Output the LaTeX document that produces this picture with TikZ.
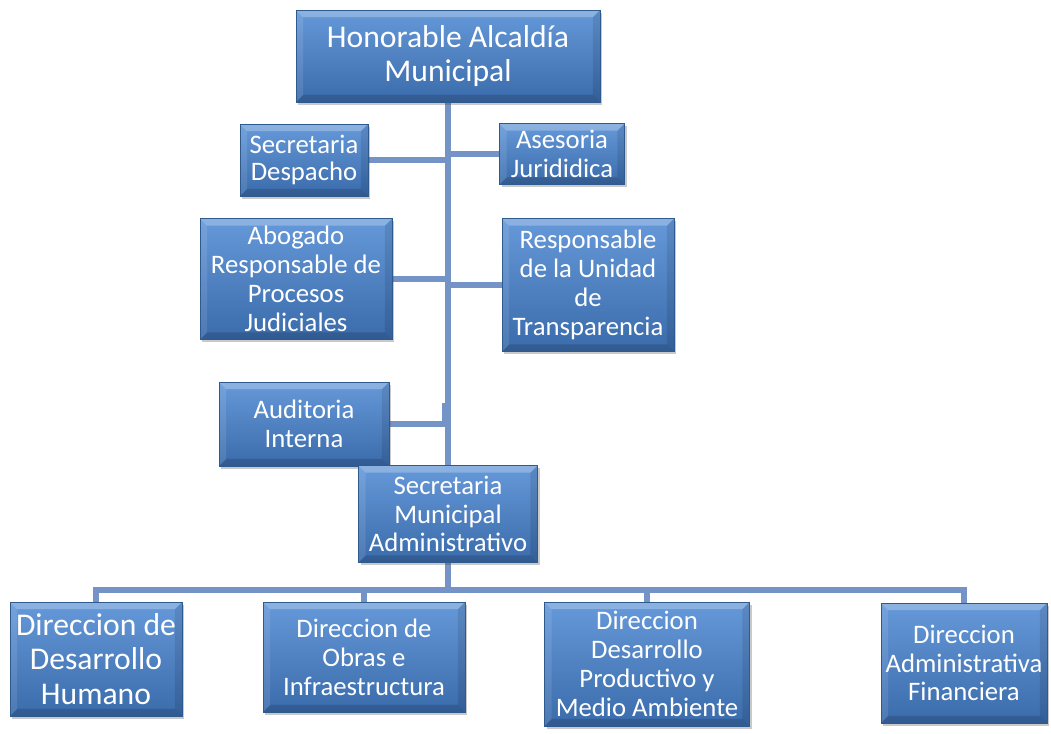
\documentclass[tikz,border=0pt]{standalone}
\usepackage{fontspec}
\setmainfont{Carlito}
\usetikzlibrary{shadows, backgrounds}

\definecolor{boxtop}{HTML}{6699D9}
\definecolor{boxbot}{HTML}{3A6BAB}
\definecolor{boxedge}{HTML}{2E5A8E}
\definecolor{linkblue}{HTML}{7494C8}

\tikzset{
  orgbox/.style={draw=boxedge, line width=0.6pt, top color=boxtop, bottom color=boxbot,
    drop shadow={shadow xshift=1.5pt, shadow yshift=-2pt, opacity=0.3, fill=black!70},
    text=white, align=center, inner sep=1pt,
    font=\fontsize{19}{20.5}\selectfont,
    path picture={
      \fill[white, opacity=0.25] (path picture bounding box.north west) -- (path picture bounding box.north east)
        -- ([xshift=-5pt, yshift=-5pt]path picture bounding box.north east) -- ([xshift=5pt, yshift=-5pt]path picture bounding box.north west) -- cycle;
      \fill[black, opacity=0.15] (path picture bounding box.south west) -- (path picture bounding box.south east)
        -- ([xshift=-5pt, yshift=5pt]path picture bounding box.south east) -- ([xshift=5pt, yshift=5pt]path picture bounding box.south west) -- cycle;
      \fill[black, opacity=0.1] (path picture bounding box.north east) -- (path picture bounding box.south east)
        -- ([xshift=-5pt, yshift=5pt]path picture bounding box.south east) -- ([xshift=-5pt, yshift=-5pt]path picture bounding box.north east) -- cycle;
      \fill[white, opacity=0.1] (path picture bounding box.north west) -- (path picture bounding box.south west)
        -- ([xshift=5pt, yshift=5pt]path picture bounding box.south west) -- ([xshift=5pt, yshift=-5pt]path picture bounding box.north west) -- cycle;
    }},
  bigtext/.style={font=\fontsize{22.5}{24.8}\selectfont},
  box size/.style 2 args={minimum width=#1*0.025cm, minimum height=#2*0.025cm},
  link/.style={draw=linkblue, line width=4.2pt}
}

\begin{document}
\begin{tikzpicture}[x=0.025cm, y=-0.025cm]
  \useasboundingbox (0,0) rectangle (1051,733);

  % top
  \node[orgbox, bigtext, box size={304}{92}] (alcaldia) at (448,56) {Honorable Alcald\'ia\\Municipal};

  % staff units
  \node[orgbox, box size={128}{72}, font=\fontsize{19}{19.5}\selectfont] (despacho) at (304,160) {Secretaria\\Despacho};
  \node[orgbox, box size={125}{61}] (asesoria) at (562,154) {Asesoria\\Juridi\-dica};
  \node[orgbox, box size={192}{121}] (abogado) at (296,279) {Abogado\\Responsable de\\Procesos\\Judiciales};
  \node[orgbox, box size={172}{133}] (transp) at (588,285) {Responsable\\de la Unidad\\de\\Transparencia};
  \node[orgbox, box size={170}{84}] (auditoria) at (304,424) {Auditoria\\Interna};

  \node[orgbox, box size={179}{97}] (secmun) at (448,514) {Secretaria\\Municipal\\Administrativo};

  % direcciones
  \node[orgbox, bigtext, box size={172}{114}] (humano) at (96,659) {Direccion de\\Desarrollo\\Humano};
  \node[orgbox, box size={202}{110}] (obras) at (364,657) {Direccion de\\Obras e\\Infraestructura};
  \node[orgbox, box size={205}{124}] (productivo) at (647,664) {Direccion\\Desarrollo\\Productivo y\\Medio Ambiente};
  \node[orgbox, box size={166}{120}] (financiera) at (964,663) {Direccion\\Administrativa\\Financiera};

  \coordinate (audstub) at (445,403);
  \coordinate (bus) at (448,590);

  \begin{scope}[on background layer]
    \draw[link] (alcaldia.south) -- (alcaldia.south |- secmun.north);
    \draw[link] (despacho.east) -- (despacho.east -| alcaldia.south);
    \draw[link] (asesoria.west) -- (asesoria.west -| alcaldia.south);
    \draw[link] (abogado.east) -- (abogado.east -| alcaldia.south);
    \draw[link] (transp.west) -- (transp.west -| alcaldia.south);
    \draw[link] (auditoria.east) -| (audstub);
    \draw[link] (secmun.south) -- (bus);
    \draw[link] (humano.north) -- (humano.north |- bus) -- (bus -| financiera.north) -- (financiera.north);
    \draw[link] (obras.north) -- (obras.north |- bus);
    \draw[link] (productivo.north) -- (productivo.north |- bus);
  \end{scope}
\end{tikzpicture}
\end{document}
